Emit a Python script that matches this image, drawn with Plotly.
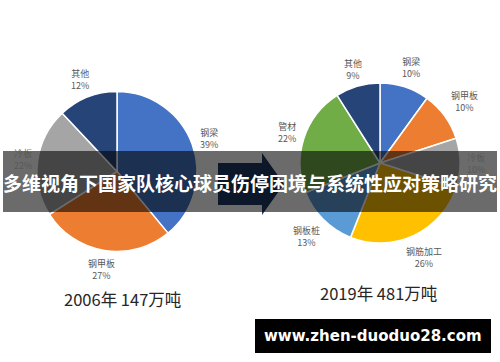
import math
import plotly.graph_objects as go

W, H = 500, 362

# Data
labels_2006 = ["钢梁", "钢甲板", "冷板", "其他"]
values_2006 = [39, 27, 22, 12]
colors_2006 = ["#4472C4", "#ED7D31", "#A5A5A5", "#264478"]

labels_2019 = ["钢梁", "钢甲板", "冷板", "钢筋加工", "钢板桩", "管材", "其他"]
values_2019 = [10, 10, 10, 26, 13, 22, 9]
colors_2019 = ["#4472C4", "#ED7D31", "#A5A5A5", "#FFC000", "#5B9BD5", "#70AD47", "#264478"]

caption_2006 = "2006年 147万吨"
caption_2019 = "2019年 481万吨"
banner_text = "多维视角下国家队核心球员伤停困境与系统性应对策略研究"
watermark = "www.zhen-duoduo28.com"

# Pie layout (pixel centre, radius)
pies = [
    dict(labels=labels_2006, values=values_2006, colors=colors_2006, cx=117, cy=171.5, r=80,
         lab_r=[1.22, 1.24, 1.19, 1.24]),
    dict(labels=labels_2019, values=values_2019, colors=colors_2019, cx=380, cy=163, r=80,
         lab_r=[1.25, 1.3, 1.2, 1.3, 1.3, 1.22, 1.22]),
]

fig = go.Figure()
annotations = []
for p in pies:
    x0 = (p["cx"] - p["r"]) / W
    x1 = (p["cx"] + p["r"]) / W
    y0 = (H - (p["cy"] + p["r"])) / H
    y1 = (H - (p["cy"] - p["r"])) / H
    fig.add_trace(go.Pie(
        labels=p["labels"], values=p["values"], sort=False, direction="clockwise",
        rotation=0, textinfo="none", hoverinfo="label+percent",
        marker=dict(colors=p["colors"], line=dict(color="white", width=1.5)),
        domain=dict(x=[x0, x1], y=[y0, y1]), showlegend=False,
    ))
    total = sum(p["values"])
    cum = 0
    for lab, v, lr in zip(p["labels"], p["values"], p["lab_r"]):
        mid = (cum + v / 2) / total * 2 * math.pi
        cum += v
        lx = p["cx"] + lr * p["r"] * math.sin(mid)
        ly = p["cy"] - lr * p["r"] * math.cos(mid)
        annotations.append(dict(
            x=lx / W, y=1 - ly / H, xref="paper", yref="paper",
            text=f"{lab}<br>{round(v / total * 100)}%", showarrow=False,
            font=dict(size=9, color="#595959", family="Noto Sans CJK SC"),
            xanchor="center", yanchor="middle", align="center",
        ))

# captions
annotations.append(dict(x=122 / W, y=1 - 299 / H, xref="paper", yref="paper", text=caption_2006,
                        showarrow=False, font=dict(size=16.5, color="#262626", family="Noto Sans CJK SC"),
                        xanchor="center", yanchor="middle"))
annotations.append(dict(x=378 / W, y=1 - 293 / H, xref="paper", yref="paper", text=caption_2019,
                        showarrow=False, font=dict(size=16.5, color="#262626", family="Noto Sans CJK SC"),
                        xanchor="center", yanchor="middle"))

shapes = []
# arrow between pies
def px(x, y):
    return f"{x / W},{1 - y / H}"
arrow = (f"M {px(218,163)} L {px(262,163)} L {px(262,153)} L {px(284,184)} "
         f"L {px(262,215)} L {px(262,205)} L {px(218,205)} Z")
shapes.append(dict(type="path", path=arrow, xref="paper", yref="paper",
                   fillcolor="#203864", line=dict(width=0)))
# banner
shapes.append(dict(type="rect", xref="paper", yref="paper", x0=3 / W, x1=497 / W,
                   y0=1 - 212 / H, y1=1 - 151 / H, fillcolor="rgba(0,0,0,0.58)", line=dict(width=0)))
annotations.append(dict(x=250 / W, y=1 - 182 / H, xref="paper", yref="paper",
                        text=f"<b>{banner_text}</b>", showarrow=False,
                        font=dict(size=19, color="white", family="Noto Sans CJK SC"),
                        xanchor="center", yanchor="middle"))
# watermark
shapes.append(dict(type="rect", xref="paper", yref="paper", x0=255 / W, x1=491 / W,
                   y0=1 - 353 / H, y1=1 - 319 / H, fillcolor="black", line=dict(width=0)))
annotations.append(dict(x=373 / W, y=1 - 336 / H, xref="paper", yref="paper",
                        text=f"<b>{watermark}</b>", showarrow=False,
                        font=dict(size=15, color="white", family="DejaVu Sans"),
                        xanchor="center", yanchor="middle"))

fig.update_layout(width=W, height=H, margin=dict(l=0, r=0, t=0, b=0),
                  paper_bgcolor="white", plot_bgcolor="white",
                  shapes=shapes, annotations=annotations)
fig.write_html("out.html", config={"displayModeBar": False})
